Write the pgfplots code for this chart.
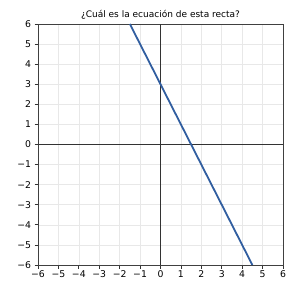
\documentclass[border=0pt]{standalone}
\usepackage{pgfplots}
\pgfplotsset{compat=1.18}
\usepackage{fontspec}
\setmainfont{DejaVu Sans}
\definecolor{linecol}{RGB}{49,94,160}
\begin{document}
\begin{tikzpicture}
\useasboundingbox (0,0) rectangle (304pt,292pt);
\begin{axis}[
  at={(38pt,27pt)}, anchor=south west,
  scale only axis, width=245pt, height=241pt,
  xmin=-6, xmax=6, ymin=-6, ymax=6,
  xtick={-6,...,6}, ytick={-6,...,6},
  xticklabels={−6,−5,−4,−3,−2,−1,0,1,2,3,4,5,6},
  yticklabels={−6,−5,−4,−3,−2,−1,0,1,2,3,4,5,6},
  tick align=outside, tick pos=left,
  major tick length=3.5pt,
  tick style={black!80, line width=0.8pt},
  axis line style={black!75, line width=0.8pt},
  grid=major,
  major grid style={gray!18, line width=0.6pt},
  ticklabel style={font=\fontsize{9.3}{11}\selectfont},
  xticklabel style={yshift=1pt},
  title={¿Cuál es la ecuación de esta recta?},
  title style={font=\fontsize{9}{11}\selectfont, yshift=-5pt},
  clip=true,
]
\addplot[black!80, line width=1.1pt, forget plot] coordinates {(-6,0) (6,0)};
\addplot[black!80, line width=1.1pt, forget plot] coordinates {(0,-6) (0,6)};
\addplot[linecol, line width=1.8pt] coordinates {(-1.5,6) (4.5,-6)};
\end{axis}
\end{tikzpicture}
\end{document}
